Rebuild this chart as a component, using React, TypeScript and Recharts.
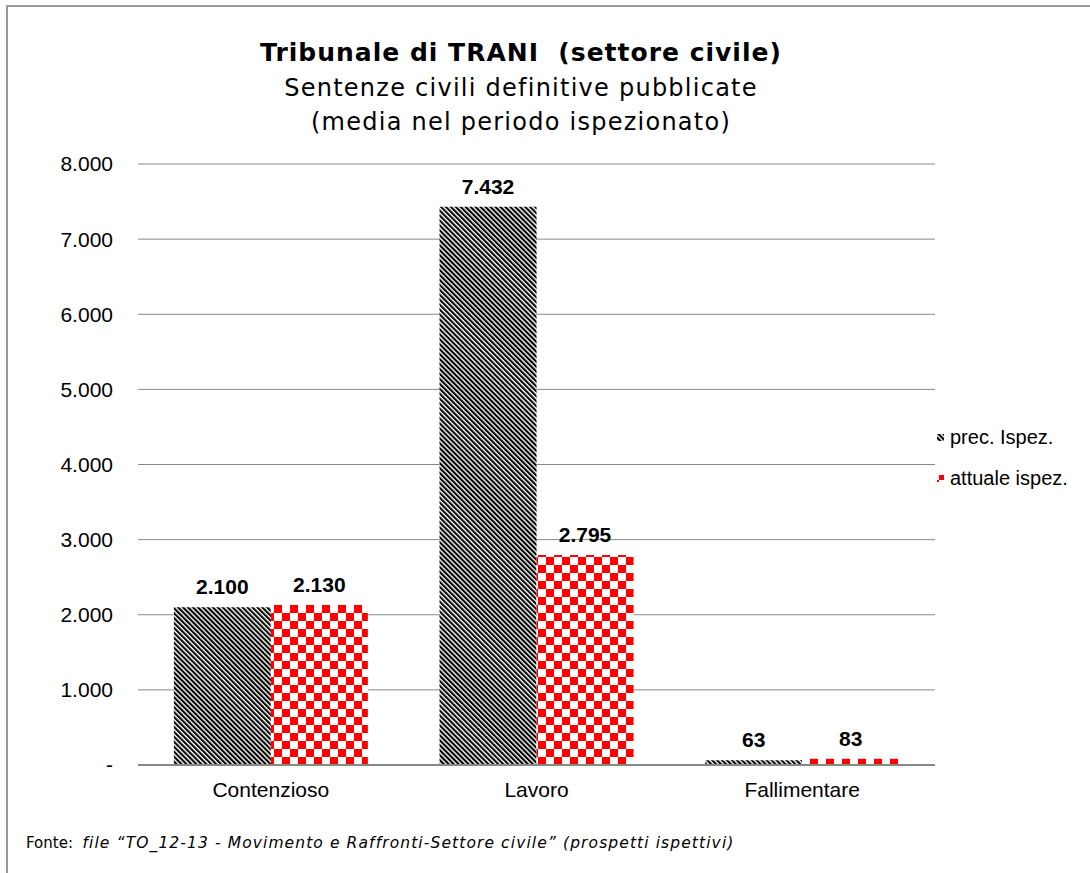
import { BarChart, Bar, XAxis, YAxis, CartesianGrid, LabelList } from 'recharts';

const categories = ['Contenzioso', 'Lavoro', 'Fallimentare'];
const precIspez = [2100, 7432, 63];
const attualeIspez = [2130, 2795, 83];
const yTicks = [0, 1000, 2000, 3000, 4000, 5000, 6000, 7000, 8000];

const data = categories.map((name, i) => ({
  name,
  prec: precIspez[i],
  attuale: attualeIspez[i],
}));

const ARIAL = '"Liberation Sans", Arial, sans-serif';
const VERDANA = '"DejaVu Sans", Verdana, sans-serif';

const fmt = (v: number) => (v === 0 ? '-' : v.toLocaleString('de-DE'));

const legendItems = [
  { label: 'prec. Ispez.', fill: 'url(#stripes)' },
  { label: 'attuale ispez.', fill: 'url(#checks)' },
];

function LegendBox() {
  return (
    <div style={{ position: 'absolute', left: 937, top: 417, fontFamily: ARIAL, fontSize: 20, color: '#000' }}>
      {legendItems.map((it) => (
        <div key={it.label} style={{ display: 'flex', alignItems: 'center', height: 41, whiteSpace: 'nowrap' }}>
          <svg width={7} height={7} style={{ marginRight: 6 }}>
            <rect width={7} height={7} fill={it.fill} />
          </svg>
          <span>{it.label}</span>
        </div>
      ))}
    </div>
  );
}

export default function App() {
  return (
    <div style={{ position: 'absolute', left: 0, top: 0, width: 1090, height: 873, overflow: 'hidden', background: '#fff' }}>
      <div
        style={{
          position: 'absolute',
          left: 6,
          top: 5,
          width: 1200,
          height: 1000,
          borderLeft: '2px solid #999',
          borderTop: '2px solid #999',
        }}
      />
      <div style={{ position: 'absolute', left: 0, top: 0, width: 1042, textAlign: 'center', color: '#000' }}>
        <div
          style={{
            position: 'absolute',
            top: 38,
            width: '100%',
            fontFamily: VERDANA,
            fontWeight: 'bold',
            fontSize: 25,
            letterSpacing: 1,
            lineHeight: '30px',
          }}
        >
          Tribunale di TRANI&nbsp; (settore civile)
        </div>
        <div
          style={{
            position: 'absolute',
            top: 71,
            width: '100%',
            fontFamily: VERDANA,
            fontSize: 24,
            letterSpacing: 1.25,
            lineHeight: '34px',
          }}
        >
          Sentenze civili definitive pubblicate
          <br />
          (media nel periodo ispezionato)
        </div>
      </div>
      <div style={{ position: 'absolute', left: 0, top: 0 }}>
        <BarChart
          width={1090}
          height={873}
          data={data}
          margin={{ top: 164, right: 155, bottom: 68, left: 0 }}
          barCategoryGap="13.5%"
          barGap={0}
        >
          <defs>
            <pattern id="stripes" patternUnits="userSpaceOnUse" width={3.5} height={3.5} patternTransform="rotate(-45)">
              <rect width={3.5} height={3.5} fill="#fff" />
              <rect width={2.1} height={3.5} fill="#000" />
            </pattern>
            <pattern id="checks" patternUnits="userSpaceOnUse" x={10} y={5} width={16} height={16}>
              <rect width={16} height={16} fill="#fff" />
              <rect width={8} height={8} fill="#f00" />
              <rect x={8} y={8} width={8} height={8} fill="#f00" />
            </pattern>
          </defs>
          <CartesianGrid vertical={false} stroke="#888" strokeWidth={1} />
          <XAxis
            dataKey="name"
            height={40}
            axisLine={{ stroke: '#888', strokeWidth: 2 }}
            tickLine={false}
            tickSize={0}
            tickMargin={17}
            tick={{ fill: '#000', fontSize: 21, fontFamily: ARIAL }}
          />
          <YAxis
            width={138}
            domain={[0, 8000]}
            ticks={yTicks}
            interval={0}
            axisLine={false}
            tickLine={false}
            tickSize={0}
            tickMargin={25}
            tickFormatter={fmt}
            tick={{ fill: '#000', fontSize: 21, fontFamily: ARIAL }}
          />
          <Bar dataKey="prec" name="prec. Ispez." fill="url(#stripes)" isAnimationActive={false}>
            <LabelList
              dataKey="prec"
              position="top"
              offset={13}
              formatter={(v: any) => fmt(Number(v))}
              style={{ fill: '#000', fontSize: 21, fontWeight: 'bold', fontFamily: ARIAL }}
            />
          </Bar>
          <Bar dataKey="attuale" name="attuale ispez." fill="url(#checks)" isAnimationActive={false}>
            <LabelList
              dataKey="attuale"
              position="top"
              offset={13}
              formatter={(v: any) => fmt(Number(v))}
              style={{ fill: '#000', fontSize: 21, fontWeight: 'bold', fontFamily: ARIAL }}
            />
          </Bar>
        </BarChart>
      </div>
      <LegendBox />
      <div style={{ position: 'absolute', left: 26, top: 834, fontFamily: VERDANA, fontSize: 15, color: '#000', whiteSpace: 'nowrap' }}>
        Fonte:&nbsp;{' '}
        <i style={{ fontSize: 15.5, letterSpacing: 1.1 }}>
          file “TO_12-13 - Movimento e Raffronti-Settore civile” (prospetti ispettivi)
        </i>
      </div>
    </div>
  );
}
